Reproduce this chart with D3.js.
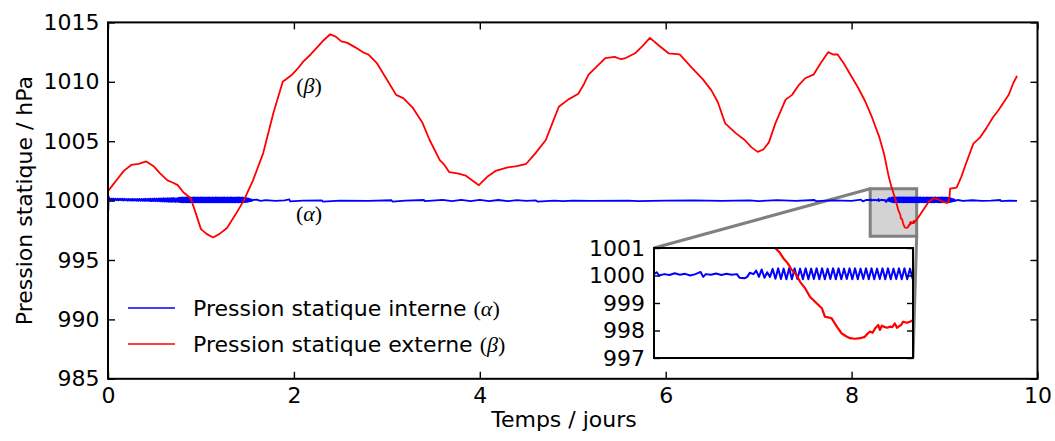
<!DOCTYPE html>
<html>
<head>
<meta charset="utf-8">
<title>pression statique</title>
<script src="https://cdn.jsdelivr.net/npm/d3@7/dist/d3.min.js"></script>
<style>
  body { margin: 0; background: #fff; }
  svg { display: block; font-family: "DejaVu Sans", sans-serif; }
  .tick text { font-family: "DejaVu Sans", sans-serif; font-size: 22px; fill: #000; }
  .tick line { stroke: #000; stroke-width: 1.4px; }
  .math { font-family: "Liberation Serif", serif; }
</style>
</head>
<body>
<svg id="chart" width="1055" height="441"></svg>
<script>
// values (time in days, pressure in hPa)
const xTicks = [0, 2, 4, 6, 8, 10];
const yTicks = [985, 990, 995, 1000, 1005, 1010, 1015];
const insetTicks = [997, 998, 999, 1000, 1001];
const insetDays = [8.2, 8.7];
const insetPress = [997, 1001];

// external static pressure (beta)
const externe = [
  [0.00,1000.8],[0.05,1001.3],[0.10,1001.8],[0.17,1002.5],[0.25,1003.0],[0.33,1003.1],[0.41,1003.3],
  [0.45,1003.1],[0.49,1002.9],[0.56,1002.3],[0.64,1001.7],[0.70,1001.5],[0.75,1001.3],[0.81,1000.7],
  [0.89,1000.2],[0.95,998.8],[1.00,997.6],[1.06,997.2],[1.13,996.9],[1.20,997.2],[1.28,997.7],
  [1.37,998.8],[1.46,1000.0],[1.56,1001.7],[1.67,1004.0],[1.78,1007.4],[1.88,1010.0],[1.98,1010.6],
  [2.04,1011.1],[2.10,1011.7],[2.18,1012.3],[2.25,1012.9],[2.32,1013.5],[2.39,1014.0],[2.45,1013.8],
  [2.51,1013.4],[2.57,1013.3],[2.66,1012.9],[2.74,1012.5],[2.80,1012.3],[2.89,1011.6],[3.00,1010.2],
  [3.10,1008.9],[3.18,1008.6],[3.28,1007.8],[3.38,1006.6],[3.46,1005.1],[3.57,1003.4],[3.62,1003.0],
  [3.67,1002.4],[3.76,1002.3],[3.85,1002.1],[3.92,1001.7],[3.99,1001.3],[4.08,1002.0],[4.17,1002.5],
  [4.30,1002.8],[4.40,1002.9],[4.50,1003.1],[4.60,1004.0],[4.71,1005.1],[4.78,1006.5],[4.85,1007.9],
  [4.95,1008.5],[5.06,1009.0],[5.12,1009.8],[5.17,1010.6],[5.26,1011.3],[5.35,1012.0],[5.45,1012.1],
  [5.52,1011.9],[5.57,1012.0],[5.67,1012.4],[5.75,1013.0],[5.83,1013.7],[5.92,1013.1],[6.03,1012.4],
  [6.15,1012.3],[6.28,1011.2],[6.40,1010.2],[6.49,1009.3],[6.56,1008.3],[6.64,1006.5],[6.75,1005.7],
  [6.85,1005.1],[6.92,1004.5],[6.99,1004.1],[7.05,1004.3],[7.11,1004.9],[7.18,1006.5],[7.29,1008.5],
  [7.36,1008.9],[7.43,1009.7],[7.50,1010.3],[7.59,1010.6],[7.67,1011.6],[7.75,1012.5],[7.80,1012.3],
  [7.85,1012.3],[7.92,1011.5],[7.98,1010.7],[8.07,1009.5],[8.15,1008.3],[8.22,1007.0],[8.30,1005.3],
  [8.35,1003.9],[8.40,1002.0],[8.434,1001.0],[8.442,1000.85],[8.450,1000.62],[8.458,1000.45],
  [8.466,1000.2],[8.474,1000.05],[8.482,999.77],[8.492,999.53],[8.501,999.23],[8.508,999.1],
  [8.514,998.99],[8.524,998.81],[8.530,998.5],[8.536,998.48],[8.543,998.44],[8.553,998.14],
  [8.562,997.9],[8.570,997.8],[8.578,997.72],[8.588,997.7],[8.598,997.72],[8.607,997.77],
  [8.612,997.88],[8.617,997.96],[8.622,997.92],[8.627,998.08],[8.633,998.2],[8.636,998.02],
  [8.640,998.18],[8.643,998.14],[8.650,998.1],[8.656,998.14],[8.660,998.12],[8.665,998.26],
  [8.669,998.1],[8.672,998.14],[8.677,998.2],[8.681,998.32],[8.688,998.28],[8.694,998.32],
  [8.701,998.38],[8.77,999.2],[8.83,999.9],[8.88,1000.2],[8.93,1000.1],[8.98,999.9],[9.03,999.8],
  [9.05,1000.0],[9.06,1001.0],[9.13,1001.1],[9.18,1002.0],[9.23,1003.1],[9.31,1004.8],[9.38,1005.3],
  [9.45,1006.1],[9.52,1007.0],[9.58,1007.6],[9.63,1008.2],[9.69,1008.9],[9.74,1009.9],[9.78,1010.5]
];

// internal static pressure (alpha): irregular samples plus regularly sampled stretches
const interneHead = [[0.000,1000.30],[0.003,999.15],[0.007,1000.35],[0.015,1000.10]];

const rippleStart = 0.02, rippleStep = 0.01;
const ripple = [
  1000.18,1000.04,1000.17,1000.03,1000.18,1000.04,1000.16,1000.03,1000.17,1000.02,
  1000.16,1000.03,1000.15,1000.02,1000.16,1000.01,1000.15,1000.02,1000.14,1000.00,
  1000.15,1000.01,1000.14,1000.00,1000.15,999.99,1000.14,1000.00,1000.13,999.99,
  1000.14,999.98,1000.15,999.99,1000.14,999.98,1000.15,999.97,1000.16,999.98,
  1000.15,999.97,1000.16,999.96,1000.17,999.96,1000.16,999.95,1000.18,999.95,
  1000.17,999.94,1000.18,999.94,1000.19,999.93,1000.18,999.92,1000.20,999.92,
  1000.19,999.91,1000.20,999.90,1000.21,999.90,1000.20,999.89,1000.22,999.89,
  1000.21,999.88
];

const bandAStart = 0.74, bandAStep = 0.008;
const bandA = [
  1000.18,999.92,1000.22,999.88,1000.24,999.87,1000.25,999.86,1000.26,999.86,
  1000.25,999.86,1000.26,999.85,1000.26,999.86,1000.25,999.86,1000.26,999.85,
  1000.25,999.86,1000.26,999.85,1000.26,999.86,1000.25,999.86,1000.26,999.85,
  1000.25,999.86,1000.26,999.85,1000.26,999.86,1000.25,999.86,1000.26,999.85,
  1000.25,999.86,1000.26,999.85,1000.26,999.86,1000.25,999.86,1000.26,999.85,
  1000.25,999.86,1000.26,999.85,1000.26,999.86,1000.25,999.86,1000.26,999.85,
  1000.25,999.86,1000.26,999.85,1000.26,999.86,1000.25,999.86,1000.26,999.85,
  1000.25,999.86,1000.26,999.85,1000.26,999.86,1000.25,999.86,1000.26,999.85,
  1000.25,999.86,1000.26,999.85,1000.26,999.86,1000.25,999.86,1000.26,999.85,
  1000.24,999.87,1000.22,999.88,1000.20,999.90,1000.18,999.92,1000.15,999.95,
  1000.10,999.97,1000.05
];

const interneMid = [
  [1.60,1000.08],[1.64,999.97],[1.70,1000.04],[1.80,999.98],[1.90,1000.02],[1.95,1000.10],
  [1.96,999.94],[2.10,1000.00],[2.30,1000.02],[2.31,999.92],[2.50,1000.00],[2.80,999.98],
  [3.05,1000.03],[3.06,999.92],[3.20,1000.00],[3.40,1000.05],[3.41,999.95],[3.60,1000.06],
  [3.70,999.96],[3.80,1000.07],[3.90,999.95],[4.00,1000.06],[4.10,999.96],[4.20,1000.05],
  [4.30,999.96],[4.40,1000.04],[4.50,999.97],[4.60,1000.02],[4.62,999.92],[4.80,1000.00],
  [4.90,999.95],[5.00,1000.00],[5.20,999.98],[5.60,1000.00],[5.70,999.95],[6.00,1000.00],
  [6.30,1000.02],[6.60,999.98],[6.90,1000.02],[7.00,999.96],[7.20,1000.04],[7.40,999.98],
  [7.60,1000.05],[7.62,999.95],[7.80,1000.02],[8.00,999.98],[8.10,1000.08],[8.12,999.93],
  [8.16,1000.06],[8.20,1000.05],[8.205,1000.12],[8.21,1000.00],[8.22,1000.05],[8.23,1000.02],
  [8.24,1000.08],[8.25,1000.03],[8.26,1000.06],[8.27,1000.00],[8.28,1000.05],[8.29,1000.13],
  [8.295,999.95],[8.30,1000.05],[8.31,1000.03],[8.32,1000.07],[8.33,1000.02],[8.34,1000.06],
  [8.35,1000.03],[8.36,1000.05],[8.365,999.92],[8.375,999.90],[8.38,999.95],[8.385,1000.10]
];

// fast oscillation seen in the zoom
const oscStart = 8.392, oscStep = 0.0053;
const osc = [
  1000.05,1000.18,999.95,1000.22,999.92,1000.12,999.95,1000.24,999.88,1000.26,
  999.87,1000.25,999.86,1000.26,999.86,1000.26,999.87,1000.25,999.86,1000.26,
  999.86,1000.25,999.87,1000.26,999.86,1000.26,999.86,1000.25,999.87,1000.26,
  999.86,1000.26,999.86,1000.25,999.87,1000.26,999.86,1000.26,999.86,1000.25,
  999.87,1000.26,999.86,1000.26,999.86,1000.25,999.87,1000.26,999.86,1000.26,
  999.86,1000.25,999.87,1000.26,999.86,1000.26,999.86,1000.25,999.87,1000.26
];

const bandBStart = 8.71, bandBStep = 0.008;
const bandB = [
  1000.25,999.86,1000.26,999.86,1000.26,999.87,1000.25,999.86,1000.26,999.86,
  1000.25,999.86,1000.26,999.86,1000.26,999.87,1000.25,999.86,1000.26,999.86,
  1000.25,999.86,1000.26,999.86,1000.26,999.87,1000.25,999.86,1000.26,999.86,
  1000.25,999.86,1000.26,999.86,1000.26,999.87,1000.25,999.86,1000.26,999.86,
  1000.24,999.87,1000.22,999.88,1000.20,999.90,1000.16,999.93,1000.12,999.95,
  1000.08,999.98
];

const interneEnd = [
  [9.14,1000.05],[9.20,999.97],[9.30,1000.03],[9.40,999.98],[9.50,1000.00],[9.60,1000.05],
  [9.61,999.95],[9.70,1000.00],[9.78,999.98]
];

const sampled = (start, step, values) => values.map((v, i) => [start + i * step, v]);
const interneAll = [].concat(
  interneHead,
  sampled(rippleStart, rippleStep, ripple),
  sampled(bandAStart, bandAStep, bandA),
  interneMid,
  sampled(oscStart, oscStep, osc),
  sampled(bandBStart, bandBStep, bandB),
  interneEnd
);

const svg = d3.select("#chart");
const defs = svg.append("defs");
const fmt = d3.format("d");

// main axes
const x = d3.scaleLinear().domain([0, 10]).range([108, 1037.5]);
const y = d3.scaleLinear().domain([985, 1015]).range([378.8, 22.4]);

defs.append("clipPath").attr("id", "clipMain").append("rect")
  .attr("x", x(0)).attr("y", y(1015))
  .attr("width", x(10) - x(0)).attr("height", y(985) - y(1015));

// inset axes
const xi = d3.scaleLinear().domain(insetDays).range([654, 913]);
const yi = d3.scaleLinear().domain(insetPress).range([358, 248]);

defs.append("clipPath").attr("id", "clipInset").append("rect")
  .attr("x", xi(insetDays[0])).attr("y", yi(insetPress[1]))
  .attr("width", xi(insetDays[1]) - xi(insetDays[0]))
  .attr("height", yi(insetPress[0]) - yi(insetPress[1]));

// zoom box + connectors (under the lines)
svg.append("rect")
  .attr("x", x(insetDays[0])).attr("y", y(insetPress[1]))
  .attr("width", x(insetDays[1]) - x(insetDays[0]))
  .attr("height", y(insetPress[0]) - y(insetPress[1]))
  .attr("fill", "#d3d3d3").attr("stroke", "#808080").attr("stroke-width", 3);
svg.append("line")
  .attr("x1", x(insetDays[0])).attr("y1", y(insetPress[1]))
  .attr("x2", xi(insetDays[0])).attr("y2", yi(insetPress[1]))
  .attr("stroke", "#808080").attr("stroke-width", 3);
svg.append("line")
  .attr("x1", x(insetDays[1])).attr("y1", y(insetPress[0]))
  .attr("x2", xi(insetDays[1])).attr("y2", yi(insetPress[0]))
  .attr("stroke", "#808080").attr("stroke-width", 3);

const line = d3.line().x(d => x(d[0])).y(d => y(d[1]));
const plot = svg.append("g").attr("clip-path", "url(#clipMain)");
plot.append("path").attr("d", line(interneAll))
  .attr("fill", "none").attr("stroke", "#0000ff").attr("stroke-width", 1.8)
  .attr("stroke-linejoin", "round");
plot.append("path").attr("d", line(externe))
  .attr("fill", "none").attr("stroke", "#ff0000").attr("stroke-width", 1.8)
  .attr("stroke-linejoin", "round");

// ticks, pointing inward on all four sides
svg.append("g").attr("transform", `translate(${x(0)},0)`)
  .call(d3.axisLeft(y).tickValues(yTicks).tickFormat(fmt).tickSizeInner(-7).tickSizeOuter(0).tickPadding(8.5))
  .call(g => g.select(".domain").remove());
svg.append("g").attr("transform", `translate(${x(10)},0)`)
  .call(d3.axisRight(y).tickValues(yTicks).tickSizeInner(-7).tickSizeOuter(0).tickFormat(""))
  .call(g => g.select(".domain").remove());
svg.append("g").attr("transform", `translate(0,${y(985)})`)
  .call(d3.axisBottom(x).tickValues(xTicks).tickFormat(fmt).tickSizeInner(-7).tickSizeOuter(0).tickPadding(9))
  .call(g => g.select(".domain").remove());
svg.append("g").attr("transform", `translate(0,${y(1015)})`)
  .call(d3.axisTop(x).tickValues(xTicks).tickSizeInner(-7).tickSizeOuter(0).tickFormat(""))
  .call(g => g.select(".domain").remove());

svg.append("rect")
  .attr("x", x(0)).attr("y", y(1015))
  .attr("width", x(10) - x(0)).attr("height", y(985) - y(1015))
  .attr("fill", "none").attr("stroke", "#000").attr("stroke-width", 2);

// axis titles
svg.append("text")
  .attr("x", 564).attr("y", 427)
  .attr("text-anchor", "middle").attr("font-size", 22)
  .text("Temps / jours");
svg.append("text")
  .attr("transform", `translate(32,${y(1000)}) rotate(-90)`)
  .attr("text-anchor", "middle").attr("font-size", 22)
  .text("Pression statique / hPa");

// curve labels
function mathLabel(sel, letter) {
  sel.append("tspan").attr("class", "math").text("(");
  sel.append("tspan").attr("class", "math").attr("font-style", "italic").text(letter);
  sel.append("tspan").attr("class", "math").text(")");
}
svg.append("text").attr("x", 309).attr("y", 93).attr("text-anchor", "middle")
  .attr("font-size", 22).call(mathLabel, "β");
svg.append("text").attr("x", 309).attr("y", 221).attr("text-anchor", "middle")
  .attr("font-size", 22).call(mathLabel, "α");

// legend
const legendItems = [
  { label: "Pression statique interne ", letter: "α", color: "#0000ff" },
  { label: "Pression statique externe ", letter: "β", color: "#ff0000" }
];
const legend = svg.append("g");
legendItems.forEach((d, i) => {
  const ly = 308 + i * 36;
  legend.append("line").attr("x1", 128).attr("x2", 175).attr("y1", ly).attr("y2", ly)
    .attr("stroke", d.color).attr("stroke-width", 1.6);
  const t = legend.append("text").attr("x", 193).attr("y", ly + 8).attr("font-size", 22);
  t.append("tspan").text(d.label);
  t.call(mathLabel, d.letter);
});

// inset
const inset = svg.append("g");
inset.append("rect")
  .attr("x", xi(insetDays[0])).attr("y", yi(insetPress[1]))
  .attr("width", xi(insetDays[1]) - xi(insetDays[0]))
  .attr("height", yi(insetPress[0]) - yi(insetPress[1]))
  .attr("fill", "#fff");
const lineI = d3.line().x(d => xi(d[0])).y(d => yi(d[1]));
const insetPlot = inset.append("g").attr("clip-path", "url(#clipInset)");
insetPlot.append("path").attr("d", lineI(interneAll))
  .attr("fill", "none").attr("stroke", "#0000ff").attr("stroke-width", 2)
  .attr("stroke-linejoin", "round");
insetPlot.append("path").attr("d", lineI(externe))
  .attr("fill", "none").attr("stroke", "#ff0000").attr("stroke-width", 2.2)
  .attr("stroke-linejoin", "round");

inset.append("g").attr("transform", `translate(${xi(insetDays[0])},0)`)
  .call(d3.axisLeft(yi).tickValues(insetTicks).tickFormat(fmt).tickSizeInner(-6).tickSizeOuter(0).tickPadding(9))
  .call(g => g.select(".domain").remove());
inset.append("g").attr("transform", `translate(${xi(insetDays[1])},0)`)
  .call(d3.axisRight(yi).tickValues(insetTicks).tickSizeInner(-6).tickSizeOuter(0).tickFormat(""))
  .call(g => g.select(".domain").remove());
inset.append("rect")
  .attr("x", xi(insetDays[0])).attr("y", yi(insetPress[1]))
  .attr("width", xi(insetDays[1]) - xi(insetDays[0]))
  .attr("height", yi(insetPress[0]) - yi(insetPress[1]))
  .attr("fill", "none").attr("stroke", "#000").attr("stroke-width", 2);
</script>
</body>
</html>
